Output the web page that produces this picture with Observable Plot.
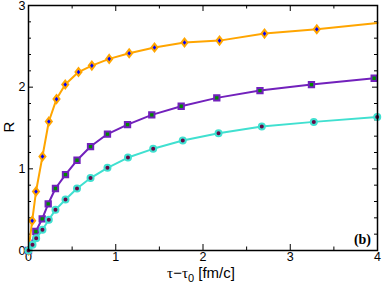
<!DOCTYPE html>
<html>
<head>
<meta charset="utf-8">
<script src="https://cdn.jsdelivr.net/npm/d3@7"></script>
<script src="https://cdn.jsdelivr.net/npm/@observablehq/plot@0.6"></script>
<style>
  html, body { margin: 0; padding: 0; background: white; }
  #chart svg { display: block; }
</style>
</head>
<body>
<div id="chart"></div>
<script>
// ---- data ----
const orangeX = [0, 0.042, 0.086, 0.160, 0.233, 0.321, 0.421, 0.573, 0.726, 0.925, 1.154, 1.444, 1.788, 2.189, 2.705, 3.304, 4.0];
const orangeY = [0, 0.364, 0.722, 1.151, 1.579, 1.854, 2.032, 2.185, 2.264, 2.346, 2.415, 2.485, 2.546, 2.570, 2.656, 2.709, 2.787];
const orangeMarked = [true, true, true, true, true, true, true, true, true, true, true, true, true, true, true, true, false];

const purpleX = [0, 0.084, 0.157, 0.226, 0.309, 0.424, 0.556, 0.711, 0.905, 1.135, 1.413, 1.750, 2.158, 2.653, 3.243, 3.962];
const purpleY = [0, 0.233, 0.388, 0.572, 0.759, 0.930, 1.105, 1.273, 1.426, 1.542, 1.661, 1.766, 1.869, 1.958, 2.032, 2.109];

const cyanX = [0, 0.046, 0.088, 0.160, 0.233, 0.309, 0.424, 0.556, 0.711, 0.905, 1.140, 1.429, 1.768, 2.178, 2.674, 3.270, 3.997];
const cyanY = [0, 0.070, 0.151, 0.253, 0.376, 0.498, 0.624, 0.759, 0.887, 1.012, 1.138, 1.245, 1.346, 1.436, 1.518, 1.575, 1.636];

const xMajorTicks = [0, 1, 2, 3, 4];
const xMinorTicks = [0.5, 1.5, 2.5, 3.5];
const yMajorTicks = [0, 1, 2, 3];
const yMinorTicks = [0.2, 0.4, 0.6, 0.8, 1.2, 1.4, 1.6, 1.8, 2.2, 2.4, 2.6, 2.8];

const yLabel = "R";
const panelLabel = "(b)";

// ---- build tables ----
const orange = orangeX.map((x, i) => ({x, y: orangeY[i], marked: orangeMarked[i]}));
const purple = purpleX.map((x, i) => ({x, y: purpleY[i]}));
const cyan = cyanX.map((x, i) => ({x, y: cyanY[i]}));

const C = {
  orange: "#ffa500", blue: "#0000ff",
  indigo: "#7221bc", green: "#008b00",
  turquoise: "#40e0d0", maroon: "#670748"
};

const diamond = {
  draw(context, size) {
    const r = Math.sqrt(size / Math.PI);
    const h = r * 1.3, w = r * 1.0;
    context.moveTo(0, -h);
    context.lineTo(w, 0);
    context.lineTo(0, h);
    context.lineTo(-w, 0);
    context.closePath();
  }
};

const W = 382, H = 289, mL = 28, mR = 5, mT = 5, mB = 39;
const plotW = W - mL - mR, plotH = H - mT - mB;
const tickFont = 12.5;
const majX = 6, minX = 3.5, majY = 5, minY = 3;

const chart = Plot.plot({
  width: W,
  height: H,
  marginLeft: mL,
  marginRight: mR,
  marginTop: mT,
  marginBottom: mB,
  style: {fontFamily: "'Liberation Sans', Arial, sans-serif", fontSize: tickFont + "px", background: "white", color: "black", overflow: "visible"},
  x: {domain: [0, 4]},
  y: {domain: [0, 3]},
  marks: [
    // tick labels
    Plot.axisX({anchor: "bottom", ticks: xMajorTicks, tickSize: 0, tickPadding: 2, label: null, tickFormat: d3.format("d"), fontSize: tickFont}),
    Plot.axisY({anchor: "left", ticks: yMajorTicks, tickSize: 0, tickPadding: 3, label: null, tickFormat: d3.format("d"), fontSize: tickFont}),
    // inward ticks: bottom, top, left, right
    Plot.tickX(xMajorTicks, {x: d => d, insetTop: plotH - majX, stroke: "black"}),
    Plot.tickX(xMinorTicks, {x: d => d, insetTop: plotH - minX, stroke: "black"}),
    Plot.tickX(xMajorTicks, {x: d => d, insetBottom: plotH - majX, stroke: "black"}),
    Plot.tickX(xMinorTicks, {x: d => d, insetBottom: plotH - minX, stroke: "black"}),
    Plot.tickY(yMajorTicks, {y: d => d, insetRight: plotW - majY, stroke: "black"}),
    Plot.tickY(yMinorTicks, {y: d => d, insetRight: plotW - minY, stroke: "black"}),
    Plot.tickY(yMajorTicks, {y: d => d, insetLeft: plotW - majY, stroke: "black"}),
    Plot.tickY(yMinorTicks, {y: d => d, insetLeft: plotW - minY, stroke: "black"}),
    // series
    Plot.line(orange, {x: "x", y: "y", stroke: C.orange, strokeWidth: 2}),
    Plot.dot(orange.filter(d => d.marked), {x: "x", y: "y", symbol: diamond, r: 3, fill: C.blue, stroke: C.orange, strokeWidth: 2}),
    Plot.line(purple, {x: "x", y: "y", stroke: C.indigo, strokeWidth: 2}),
    Plot.dot(purple, {x: "x", y: "y", symbol: "square", r: 3, fill: C.green, stroke: C.indigo, strokeWidth: 2}),
    Plot.line(cyan, {x: "x", y: "y", stroke: C.turquoise, strokeWidth: 2}),
    Plot.dot(cyan, {x: "x", y: "y", symbol: "circle", r: 3, fill: C.maroon, stroke: C.turquoise, strokeWidth: 2}),
    Plot.frame({stroke: "black", strokeWidth: 1.5})
  ]
});

document.getElementById("chart").appendChild(chart);

// ---- axis titles and panel label as real SVG text ----
const svg = d3.select(chart);
svg.append("text")
  .attr("transform", "translate(14,127) rotate(-90)")
  .attr("text-anchor", "middle")
  .attr("font-family", "'Liberation Sans', Arial, sans-serif")
  .attr("font-size", 15)
  .attr("fill", "black")
  .text(yLabel);

const xl = svg.append("text")
  .attr("x", 201)
  .attr("y", 278)
  .attr("text-anchor", "middle")
  .attr("font-family", "'Liberation Sans', Arial, sans-serif")
  .attr("font-size", 15)
  .attr("fill", "black");
xl.append("tspan").attr("font-family", "'Liberation Serif', serif").text("τ");
xl.append("tspan").text("−");
xl.append("tspan").attr("font-family", "'Liberation Serif', serif").text("τ");
xl.append("tspan").attr("font-size", 11).attr("dy", 4).text("0");
xl.append("tspan").attr("dy", -4).text(" [fm/c]");

svg.append("text")
  .attr("x", 371)
  .attr("y", 244)
  .attr("text-anchor", "end")
  .attr("font-family", "'Liberation Serif', 'Times New Roman', serif")
  .attr("font-weight", "bold")
  .attr("font-size", 14)
  .attr("fill", "black")
  .text(panelLabel);
</script>
</body>
</html>
